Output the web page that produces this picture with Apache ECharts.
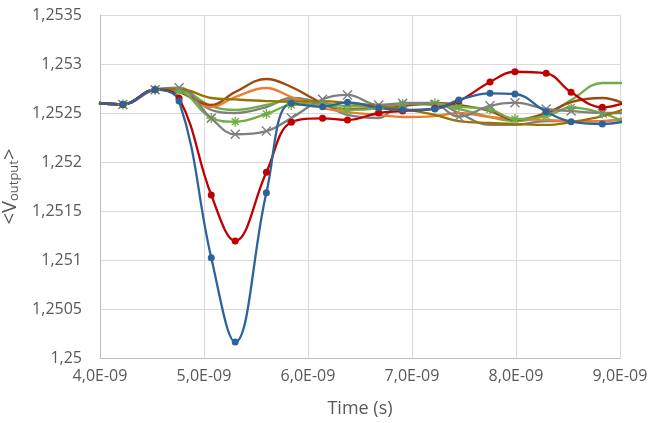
<!DOCTYPE html>
<html>
<head>
<meta charset="utf-8">
<script src="https://cdn.jsdelivr.net/npm/echarts@6/dist/echarts.min.js"></script>
<style>html,body{margin:0;padding:0;background:#fff}#c{width:650px;height:423px}</style>
</head>
<body>
<div id="c"></div>
<script>
// time in ns (labels shown as seconds, E-09)
const timeNs = [3.99, 4.22, 4.53, 4.76, 5.07, 5.30, 5.60, 5.84, 6.14, 6.38, 6.68, 6.91, 7.22, 7.45, 7.75, 7.99, 8.29, 8.53, 8.83, 9.07];
const xTicks = [4, 5, 6, 7, 8, 9];
const yTicks = [1.25, 1.2505, 1.251, 1.2515, 1.252, 1.2525, 1.253, 1.2535];

const seriesBlue   = [1.252602, 1.252587, 1.252738, 1.252622, 1.251023, 1.250163, 1.251687, 1.252599, 1.252564, 1.252609, 1.252554, 1.252531, 1.252541, 1.252633, 1.252701, 1.252694, 1.252513, 1.252411, 1.252388, 1.252418];
const seriesRed    = [1.252602, 1.252587, 1.252738, 1.252650, 1.251663, 1.251194, 1.251895, 1.252405, 1.252446, 1.252429, 1.252500, 1.252520, 1.252548, 1.252622, 1.252816, 1.252921, 1.252905, 1.252711, 1.252558, 1.252612];
const seriesGrayX  = [1.252602, 1.252587, 1.252738, 1.252758, 1.252446, 1.252283, 1.252316, 1.252449, 1.252640, 1.252684, 1.252582, 1.252599, 1.252587, 1.252462, 1.252574, 1.252605, 1.252541, 1.252520, 1.252500, 1.252500];
const seriesGreenStar = [1.252602, 1.252587, 1.252738, 1.252724, 1.252449, 1.252411, 1.252490, 1.252582, 1.252592, 1.252531, 1.252548, 1.252592, 1.252599, 1.252564, 1.252536, 1.252439, 1.252469, 1.252556, 1.252497, 1.252398];
const seriesLightGreen = [1.252602, 1.252587, 1.252738, 1.252735, 1.252571, 1.252531, 1.252582, 1.252633, 1.252602, 1.252571, 1.252571, 1.252592, 1.252582, 1.252541, 1.252459, 1.252418, 1.252480, 1.252633, 1.252806, 1.252806];
const seriesOrange = [1.252602, 1.252587, 1.252738, 1.252714, 1.252561, 1.252663, 1.252755, 1.252663, 1.252551, 1.252510, 1.252480, 1.252459, 1.252469, 1.252500, 1.252459, 1.252439, 1.252429, 1.252418, 1.252418, 1.252459];
const seriesBrown  = [1.252602, 1.252587, 1.252738, 1.252714, 1.252582, 1.252714, 1.252847, 1.252765, 1.252602, 1.252541, 1.252551, 1.252571, 1.252602, 1.252582, 1.252520, 1.252429, 1.252500, 1.252612, 1.252653, 1.252582];
const seriesGold   = [1.252602, 1.252587, 1.252738, 1.252745, 1.252653, 1.252638, 1.252622, 1.252615, 1.252622, 1.252602, 1.252571, 1.252541, 1.252480, 1.252418, 1.252398, 1.252388, 1.252378, 1.252408, 1.252469, 1.252551];
const seriesGray   = [1.252602, 1.252587, 1.252738, 1.252735, 1.252531, 1.252500, 1.252561, 1.252653, 1.252592, 1.252480, 1.252449, 1.252602, 1.252602, 1.252500, 1.252378, 1.252378, 1.252418, 1.252418, 1.252418, 1.252439];

const FONT = '"Open Sans", "Liberation Sans", sans-serif';
const TXT = '#595959';
const pair = arr => timeNs.map((t, i) => [t, arr[i]]);
const X_PATH = 'path://M0,0L10,10M10,0L0,10';
const STAR_PATH = 'path://M5,0L5,10M0,5L10,5M1.5,1.5L8.5,8.5M8.5,1.5L1.5,8.5';
const SM = 0.4;

function plain(arr, color) {
  return { type: 'line', data: pair(arr), smooth: SM, showSymbol: false, symbol: 'none',
    lineStyle: { color, width: 2.3 }, itemStyle: { color }, clip: true };
}
function marked(arr, color, symbol, size, strokeOnly) {
  return { type: 'line', data: pair(arr), smooth: SM, symbol, symbolSize: size, showSymbol: true,
    lineStyle: { color, width: 2.3 },
    itemStyle: strokeOnly ? { color: color, borderColor: color, borderWidth: 1.4 } : { color },
    clip: true };
}

const chart = echarts.init(document.getElementById('c'), null, { renderer: 'canvas' });
chart.setOption({
  animation: false,
  backgroundColor: '#fff',
  grid: { left: 100, right: 30, top: 15, bottom: 65, containLabel: false, outerBoundsMode: 'none' },
  xAxis: {
    type: 'value', min: xTicks[0], max: xTicks[xTicks.length - 1], interval: 1,
    axisLine: { show: true, lineStyle: { color: '#BFBFBF', width: 1 } },
    axisTick: { show: false },
    splitLine: { show: true, lineStyle: { color: '#D9D9D9', width: 1 } },
    axisLabel: { color: TXT, fontFamily: FONT, fontSize: 16, margin: 10,
      formatter: v => v.toFixed(1).replace('.', ',') + 'E-09' },
    name: 'Time (s)', nameLocation: 'middle', nameGap: 42,
    nameTextStyle: { color: TXT, fontFamily: FONT, fontSize: 18 }
  },
  yAxis: {
    type: 'value', min: yTicks[0], max: yTicks[yTicks.length - 1], interval: 0.0005,
    axisLine: { show: true, lineStyle: { color: '#BFBFBF', width: 1 } },
    axisTick: { show: false },
    splitLine: { show: true, lineStyle: { color: '#D9D9D9', width: 1 } },
    axisLabel: { color: TXT, fontFamily: FONT, fontSize: 16, margin: 18,
      formatter: v => parseFloat(v.toFixed(4)).toString().replace('.', ',') },
    name: '<V{sub|output}>', nameLocation: 'middle', nameGap: 61, nameRotate: 90,
    nameTextStyle: { color: TXT, fontFamily: FONT, fontSize: 20, lineHeight: 22,
      rich: { sub: { fontSize: 13, color: TXT, fontFamily: FONT, verticalAlign: 'bottom', padding: [10, 0, 0, 0] } } }
  },
  series: [
    plain(seriesGray, '#7F7F7F'),
    plain(seriesLightGreen, '#70AD47'),
    plain(seriesOrange, '#ED7D31'),
    plain(seriesBrown, '#9E480E'),
    marked(seriesGreenStar, '#70AD47', STAR_PATH, 10, true),
    marked(seriesGrayX, '#7F7F7F', X_PATH, 9, true),
    plain(seriesGold, '#997300'),
    marked(seriesRed, '#C00000', 'circle', 7, false),
    marked(seriesBlue, '#2E6399', 'circle', 7, false)
  ]
});
</script>
</body>
</html>
